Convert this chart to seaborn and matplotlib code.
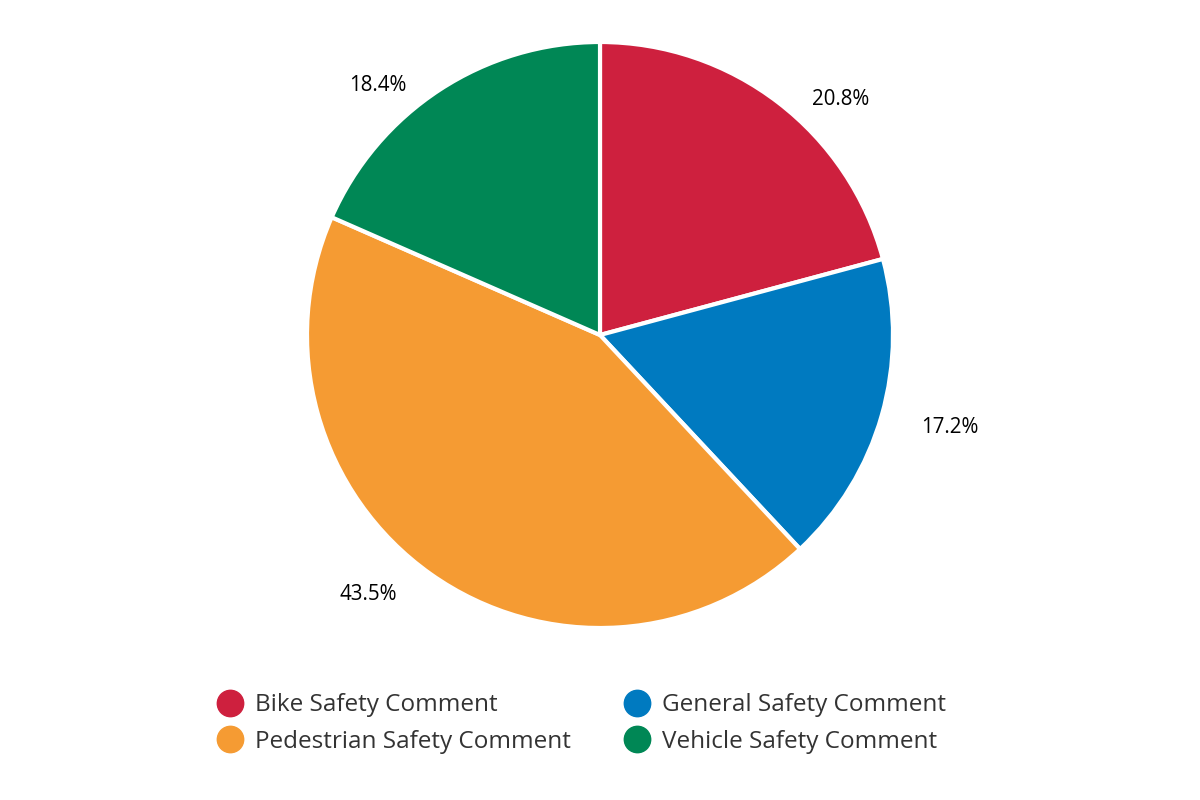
import numpy as np
import matplotlib
matplotlib.use("Agg")
import matplotlib.pyplot as plt
import seaborn as sns
from matplotlib.lines import Line2D

categories = ["Bike Safety Comment", "General Safety Comment",
              "Pedestrian Safety Comment", "Vehicle Safety Comment"]
values = [20.8, 17.2, 43.5, 18.4]
colors = ["#CE203E", "#007AC0", "#F59B33", "#008755"]

sns.set_theme(style="white")
plt.rcParams["font.family"] = ["Open Sans", "DejaVu Sans"]

fig = plt.figure(figsize=(12, 8), dpi=100)
cx, cy, r = 600, 335, 293
ax = fig.add_axes([(cx - r) / 1200, (800 - cy - r) / 800, 2 * r / 1200, 2 * r / 800])

wedges, _ = ax.pie(values, colors=colors, startangle=90, counterclock=False,
                   radius=1.0, wedgeprops=dict(edgecolor="white", linewidth=3))
ax.set_xlim(-1, 1)
ax.set_ylim(-1, 1)
ax.set_aspect("equal")
ax.axis("off")

R = 1.05
pad = 0.085
dy = -0.028
for w, v in zip(wedges, values):
    ang = np.deg2rad((w.theta1 + w.theta2) / 2)
    x, y = R * np.cos(ang), R * np.sin(ang) + dy
    if x >= 0:
        ax.text(x + pad, y, f"{v}%", ha="left", va="center", fontsize=14.8,
                color="black", clip_on=False)
    else:
        ax.text(x - pad, y, f"{v}%", ha="right", va="center", fontsize=14.8,
                color="black", clip_on=False)

order = [0, 2, 1, 3]
handles = [Line2D([0], [0], marker="o", linestyle="", markersize=19,
                  markerfacecolor=colors[i], markeredgecolor=colors[i]) for i in order]
labels = [categories[i] for i in order]
leg = fig.legend(handles, labels, loc="upper center", bbox_to_anchor=(0.484, 0.161),
                 ncol=2, frameon=False, fontsize=17.5, handletextpad=0.43,
                 columnspacing=2.1, labelspacing=0.52, handlelength=1.2)
for t in leg.get_texts():
    t.set_color("#333333")

fig.savefig("out.png", dpi=100, facecolor="white")
